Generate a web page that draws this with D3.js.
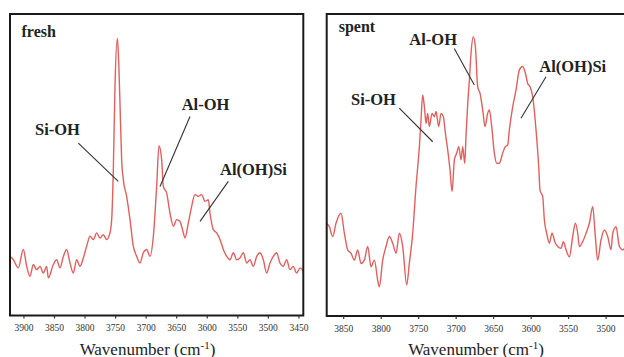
<!DOCTYPE html>
<html>
<head>
<meta charset="utf-8">
<script src="https://cdn.jsdelivr.net/npm/d3@7/dist/d3.min.js"></script>
<style>
  body { margin: 0; background: #fff; }
  svg { display: block; }
</style>
</head>
<body>
<svg id="chart" width="624" height="357"></svg>
<script>
// IR spectra in the hydroxyl stretching region (arbitrary intensity units)
const freshWavenumber = [3922, 3916.5, 3908.4, 3900.2, 3894.7, 3889.3, 3883.8, 3878.4, 3872.9, 3867.5, 3862, 3859.3,
  3851.1, 3845.6, 3840.2, 3834.7, 3829.3, 3823.8, 3818.4, 3812.9, 3807.4, 3802, 3796.5, 3791.1, 3785.6, 3780.2,
  3774.7, 3769.3, 3763.8, 3758.4, 3755.6, 3752.9, 3750.2, 3746.3, 3744.7, 3742, 3739.3, 3736.5, 3731.1, 3725.6,
  3720.2, 3714.7, 3709.3, 3703.8, 3698.3, 3692.9, 3687.4, 3682, 3678.2, 3673.8, 3671.1, 3665.6, 3660.2, 3654.7,
  3649.3, 3643.8, 3638.3, 3635.6, 3630.2, 3624.7, 3619.3, 3613.8, 3608.3, 3602.9, 3597.4, 3594.7, 3589.2, 3583.8,
  3578.3, 3572.9, 3567.4, 3562, 3556.5, 3551, 3545.6, 3540.1, 3534.7, 3529.2, 3523.8, 3518.3, 3512.9, 3507.4,
  3502, 3496.5, 3491.1, 3485.6, 3480.2, 3474.7, 3469.3, 3463.8, 3458.4, 3452.9, 3447.4, 3442];
const freshIntensity = [19.6, 18.5, 15.8, 21.9, 16.3, 13.0, 16.9, 15.2, 16.3, 14.1, 16.3, 12.5,
  16.9, 18.5, 15.8, 19.6, 21.9, 17.4, 14.1, 18.5, 16.3, 19.1, 23.0, 26.3, 25.2, 27.4,
  25.7, 26.8, 25.2, 27.4, 31.8, 48.3, 75.9, 91.9, 87.0, 70.4, 51.7, 45.0, 39.5, 31.8,
  23.0, 19.6, 17.4, 20.8, 21.9, 19.6, 26.3, 42.8, 56.3, 51.7, 42.8, 40.6, 34.0, 29.6,
  31.8, 31.2, 27.4, 25.7, 30.7, 36.2, 40.1, 39.5, 40.1, 37.9, 38.4, 34.0, 28.5, 27.4,
  25.2, 21.9, 19.6, 18.5, 20.8, 18.5, 19.1, 20.8, 17.4, 18.5, 16.3, 19.6, 20.8, 18.5,
  14.1, 17.4, 19.6, 20.8, 17.4, 16.3, 18.5, 15.2, 16.3, 14.1, 15.8, 14.7];

const spentWavenumber = [3872.9, 3868.5, 3864, 3859.6, 3852.9, 3848.4, 3844, 3839.6, 3835.1, 3830.7, 3826.2, 3821.8,
  3817.3, 3812.9, 3808.4, 3804, 3801.8, 3797.3, 3792.9, 3788.4, 3784, 3779.5, 3775.1, 3770.6, 3765.3, 3761.8,
  3757.3, 3752.9, 3748.4, 3746.2, 3744, 3741.7, 3739.5, 3737.3, 3735.1, 3731.5, 3728.4, 3726.2, 3722.6, 3719.5,
  3716.4, 3713.7, 3710.6, 3707.5, 3704.8, 3701.7, 3698.6, 3695.9, 3692.8, 3690.6, 3687.9, 3686.2, 3683.9, 3681.7,
  3679.5, 3676.4, 3673.7, 3670.6, 3667.5, 3663.9, 3660.8, 3657.3, 3655, 3651.9, 3648.4, 3645.3, 3641.7, 3637.3,
  3633.7, 3630.6, 3628.4, 3623.9, 3619.5, 3615, 3610.6, 3607, 3603.9, 3600.8, 3597.2, 3592.8, 3589.2, 3587.5,
  3583.9, 3581.7, 3578.6, 3575, 3571.5, 3567, 3563.9, 3559.5, 3556.3, 3552.8, 3548.3, 3543.9, 3540.3, 3537.2,
  3535, 3530.6, 3526.1, 3521.7, 3517.2, 3513.7, 3510.6, 3506.1, 3501.7, 3497.2, 3492.8, 3490.5, 3486.1, 3481.6,
  3477.2, 3470];
const spentIntensity = [30.7, 29.6, 26.3, 30.7, 34.0, 27.4, 21.9, 20.8, 18.5, 21.9, 17.4, 18.5,
  23.0, 16.3, 18.5, 11.9, 9.7, 18.5, 23.0, 26.3, 24.1, 20.8, 27.4, 23.0, 10.3, 17.4,
  27.4, 42.8, 56.1, 64.9, 73.2, 69.3, 63.8, 67.1, 62.7, 67.1, 66.0, 67.7, 62.7, 67.1,
  66.0, 60.5, 55.0, 48.3, 41.2, 51.7, 53.9, 56.1, 51.7, 56.1, 50.6, 59.4, 70.4, 78.1,
  87.0, 92.5, 89.2, 75.9, 73.7, 68.2, 62.7, 67.1, 68.2, 62.7, 53.9, 50.6, 50.6, 53.9,
  56.1, 56.6, 61.6, 69.3, 74.8, 81.5, 82.6, 80.4, 77.0, 75.9, 72.6, 61.6, 49.4, 41.7,
  39.5, 31.8, 27.4, 24.1, 27.4, 24.1, 23.0, 22.4, 24.6, 21.9, 19.6, 26.3, 30.7, 27.4,
  23.0, 24.6, 27.4, 30.7, 36.2, 26.3, 18.5, 25.2, 28.5, 26.3, 21.9, 27.4, 29.6, 23.0,
  21.9, 24.5];

const freshTicks = [3900, 3850, 3800, 3750, 3700, 3650, 3600, 3550, 3500, 3450];
const spentTicks = [3850, 3800, 3750, 3700, 3650, 3600, 3550, 3500];

const sampleNames = ["fresh", "spent"];
const bandNames = ["Si-OH", "Al-OH", "Al(OH)Si"];

// Band annotations: label anchor, then leader line from its start to its tip (wavenumber, intensity)
const freshLabelAt = [[3881.1, 59.9], [3641.0, 68.2], [3578.3, 46.7]];
const freshLeaderFrom = [[3810.2, 57.2], [3627.4, 66.0], [3564.7, 44.5]];
const freshLeaderTo = [[3744.8, 44.5], [3676.5, 42.8], [3611.0, 31.2]];
const spentLabelAt = [[3839.6, 69.9], [3761.8, 89.7], [3588.5, 80.9]];
const spentLeaderFrom = [[3775.2, 68.8], [3701.8, 88.6], [3579.5, 79.2]];
const spentLeaderTo = [[3730.6, 57.7], [3675.1, 76.5], [3612.9, 65.5]];
const nameAt = [[3903.2, 92.5], [3856.0, 94.2]];

const panels = [
  { wn: freshWavenumber, val: freshIntensity, ticks: freshTicks, domain: [3922, 3442],
    x0: 10, x1: 303.3, y0: 14, y1: 315.5, titleX: 147.5,
    labelAt: freshLabelAt, from: freshLeaderFrom, to: freshLeaderTo, name: sampleNames[0], nameAt: nameAt[0] },
  { wn: spentWavenumber, val: spentIntensity, ticks: spentTicks, domain: [3872, 3464.8],
    x0: 326.7, x1: 632, y0: 14, y1: 316, titleX: 476,
    labelAt: spentLabelAt, from: spentLeaderFrom, to: spentLeaderTo, name: sampleNames[1], nameAt: nameAt[1] }
];

const svg = d3.select("#chart");
svg.append("rect").attr("width", 624).attr("height", 357).attr("fill", "#fff");

const serif = "'Liberation Serif', 'Times New Roman', Times, 'DejaVu Serif', serif";
const lineColor = "#e0605e";

panels.forEach((p, i) => {
  const x = d3.scaleLinear().domain(p.domain).range([p.x0, p.x1]);
  const y = d3.scaleLinear().domain([0, 100]).range([p.y1, p.y0]);
  const g = svg.append("g");

  const clipId = "clip" + i;
  g.append("clipPath").attr("id", clipId)
    .append("rect").attr("x", p.x0).attr("y", p.y0)
    .attr("width", p.x1 - p.x0).attr("height", p.y1 - p.y0);

  // spectrum trace
  const pts = p.wn.map((w, k) => [w, p.val[k]]);
  const line = d3.line().x(d => x(d[0])).y(d => y(d[1])).curve(d3.curveMonotoneX);
  g.append("path").datum(pts)
    .attr("clip-path", `url(#${clipId})`)
    .attr("d", line)
    .attr("fill", "none")
    .attr("stroke", lineColor)
    .attr("stroke-width", 1.4)
    .attr("stroke-linejoin", "round");

  // frame
  g.append("rect")
    .attr("x", p.x0).attr("y", p.y0)
    .attr("width", p.x1 - p.x0).attr("height", p.y1 - p.y0)
    .attr("fill", "none").attr("stroke", "#1a1a1a").attr("stroke-width", 2);

  // wavenumber axis
  const axis = d3.axisBottom(x).tickValues(p.ticks).tickSize(3).tickPadding(6).tickFormat(d3.format("d"));
  const ax = g.append("g").attr("transform", `translate(0,${p.y1})`).call(axis);
  ax.select(".domain").remove();
  ax.selectAll(".tick line").attr("stroke", "#333").attr("stroke-width", 1.2);
  ax.selectAll(".tick text")
    .attr("fill", "#333")
    .style("font-family", serif)
    .style("font-size", "9.5px");

  // axis title
  const t = g.append("text")
    .attr("x", p.titleX).attr("y", 354.5)
    .attr("text-anchor", "middle")
    .attr("fill", "#222")
    .style("font-family", serif)
    .style("font-size", "17px");
  t.append("tspan").text("Wavenumber (cm");
  t.append("tspan").attr("dy", -6).style("font-size", "11px").text("-1");
  t.append("tspan").attr("dy", 6).text(")");

  // sample name
  g.append("text")
    .attr("x", x(p.nameAt[0])).attr("y", y(p.nameAt[1]))
    .attr("fill", "#222")
    .style("font-family", serif).style("font-size", "16px").style("font-weight", "bold")
    .text(p.name);

  // band labels with leader lines
  bandNames.forEach((b, k) => {
    g.append("line")
      .attr("x1", x(p.from[k][0])).attr("y1", y(p.from[k][1]))
      .attr("x2", x(p.to[k][0])).attr("y2", y(p.to[k][1]))
      .attr("stroke", "#333").attr("stroke-width", 1.1);
    g.append("text")
      .attr("x", x(p.labelAt[k][0])).attr("y", y(p.labelAt[k][1]))
      .attr("fill", "#222")
      .style("font-family", serif).style("font-size", "16.5px").style("font-weight", "bold")
      .text(b);
  });
});
</script>
</body>
</html>
